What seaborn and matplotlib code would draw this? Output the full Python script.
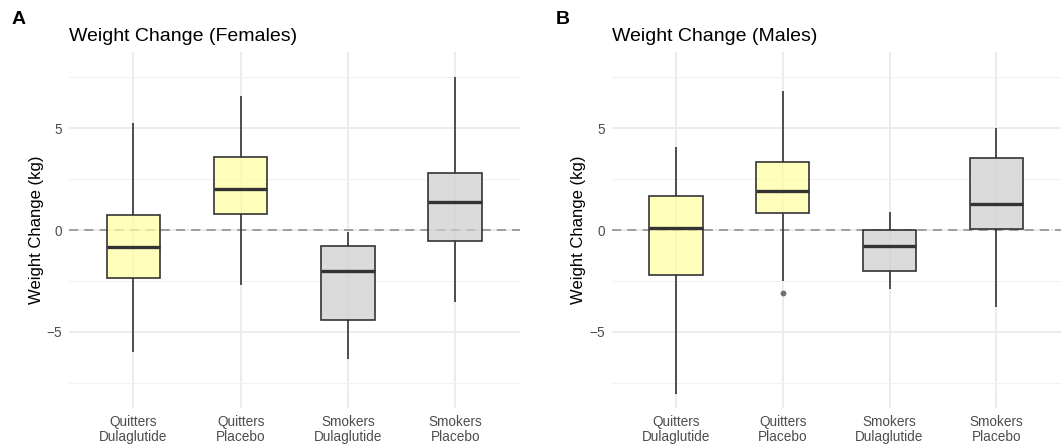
import matplotlib
matplotlib.use("Agg")
import matplotlib.pyplot as plt
import numpy as np
import pandas as pd
import seaborn as sns

# groups shown on the x axis
groups = ["Quitters\nDulaglutide", "Quitters\nPlacebo", "Smokers\nDulaglutide", "Smokers\nPlacebo"]

# box summaries (kg)
female_low = [-5.98, -2.70, -6.31, -3.52]
female_q1 = [-2.34, 0.80, -4.42, -0.54]
female_med = [-0.82, 2.01, -2.00, 1.36]
female_q3 = [0.74, 3.60, -0.77, 2.79]
female_high = [5.27, 6.58, -0.11, 7.49]
female_outliers = [[], [], [], []]

male_low = [-8.03, -2.51, -2.91, -3.77]
male_q1 = [-2.21, 0.82, -2.00, 0.05]
male_med = [0.08, 1.90, -0.79, 1.29]
male_q3 = [1.69, 3.34, 0.00, 3.54]
male_high = [4.09, 6.80, 0.88, 5.00]
male_outliers = [[], [-3.11], [], []]

fill_colors = {groups[0]: "#FFFF9E", groups[1]: "#FFFF9E",
               groups[2]: "#CDCDCD", groups[3]: "#CDCDCD"}


def build_frame(low, q1, med, q3, high, outliers):
    # nine points per group whose quartiles and whiskers give the summary above
    rows = []
    for i, g in enumerate(groups):
        pts = list(outliers[i]) + [low[i]] + [q1[i]] * (2 - len(outliers[i])) \
            + [med[i]] * 3 + [q3[i]] * 2 + [high[i]]
        rows += [(g, v) for v in pts]
    return pd.DataFrame(rows, columns=["group", "change"])


female = build_frame(female_low, female_q1, female_med, female_q3, female_high, female_outliers)
male = build_frame(male_low, male_q1, male_med, male_q3, male_high, male_outliers)

sns.set_style("white")
plt.rcParams['font.family'] = ['Liberation Sans', 'DejaVu Sans']

W, H = 1063, 445
fig = plt.figure(figsize=(W / 100, H / 100), dpi=100)
ax_f = fig.add_axes([69 / W, 1 - 408.3 / H, 450.6 / W, 356.6 / H])
ax_m = fig.add_axes([611.7 / W, 1 - 408.3 / H, 448.8 / W, 356.6 / H])

for ax, df, title in [(ax_f, female, "Weight Change (Females)"),
                      (ax_m, male, "Weight Change (Males)")]:
    ax.set_axisbelow(True)
    ax.axhline(0, color="#8A8A8A", lw=1.1, ls=(0, (6, 4)), zorder=0.9)
    sns.boxplot(data=df, x="group", y="change", hue="group", palette=fill_colors,
                legend=False, ax=ax, width=0.5, saturation=1, whis=1.5,
                linewidth=1.2, linecolor="#333333",
                medianprops=dict(linewidth=2.4, color="#333333"),
                capprops=dict(linewidth=0),
                flierprops=dict(marker="o", markersize=3.2, markerfacecolor="#707070",
                                markeredgecolor="#707070"))
    for p in ax.patches:
        r, g, b, _ = p.get_facecolor()
        p.set_facecolor((r, g, b, 0.7))
    ax.set_xlim(-0.6, 3.6)
    ax.set_ylim(-8.75, 8.75)
    ax.set_yticks([-5, 0, 5])
    ax.set_yticklabels(["\u22125", "0", "5"])
    ax.set_yticks([-7.5, -2.5, 2.5, 7.5], minor=True)
    ax.grid(True, which="major", color="#EBEBEB", lw=1.3)
    ax.grid(True, which="minor", axis="y", color="#F2F2F2", lw=0.8)
    for s in ax.spines.values():
        s.set_visible(False)
    ax.tick_params(axis="both", which="both", length=0, labelsize=9.8, colors="#4D4D4D")
    ax.tick_params(axis="y", pad=5)
    ax.tick_params(axis="x", pad=5)
    for lbl in ax.get_xticklabels():
        lbl.set_linespacing(1.05)
    ax.set_xlabel("")
    ax.set_ylabel("Weight Change (kg)", fontsize=12, color="black", labelpad=2)
    ax.set_title(title, loc="left", fontsize=14, pad=8, color="black")

fig.text(12 / W, 1 - 19 / H, "A", fontsize=14, fontweight="bold", va="center", ha="left", color="black")
fig.text(556 / W, 1 - 19 / H, "B", fontsize=14, fontweight="bold", va="center", ha="left", color="black")

fig.savefig("out.png", dpi=100)
plt.close()
